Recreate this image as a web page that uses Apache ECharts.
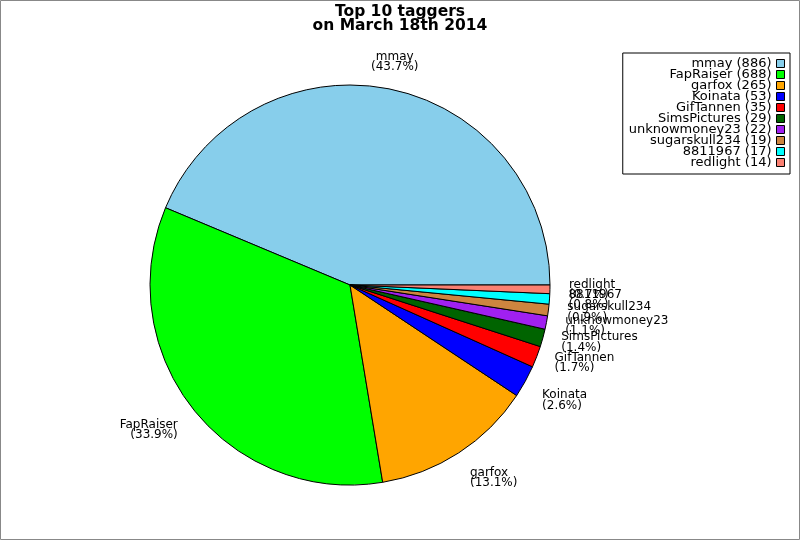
<!DOCTYPE html>
<html>
<head>
<meta charset="utf-8">
<script src="https://cdn.jsdelivr.net/npm/echarts@6/dist/echarts.min.js"></script>
<style>
html,body{margin:0;padding:0;background:#fff;}
#chart{width:800px;height:540px;}
</style>
</head>
<body>
<div id="chart"></div>
<script>
const names = ['mmay','FapRaiser','garfox','Koinata','GifTannen','SimsPictures','unknowmoney23','sugarskull234','8811967','redlight'];
const counts = [886, 688, 265, 53, 35, 29, 22, 19, 17, 14];
const colors = ['#87CEEB','#00FF00','#FFA500','#0000FF','#FF0000','#006400','#A020F0','#CD853F','#00FFFF','#FA8072'];
const titleLines = ['Top 10 taggers', 'on March 18th 2014'];

const total = counts.reduce((a, b) => a + b, 0);
const midAngles = [];
let acc = 0;
counts.forEach(v => { midAngles.push((acc + v / 2) / total * 2 * Math.PI); acc += v; });

const chart = echarts.init(document.getElementById('chart'), null, {renderer: 'canvas'});
const FONT = 'DejaVu Sans';
chart.setOption({
  animation: false,
  color: colors,
  graphic: [{
    type: 'rect', silent: true, z: -1,
    shape: {x: 0.5, y: 0.5, width: 799, height: 539},
    style: {fill: 'none', stroke: '#888', lineWidth: 1}
  }],
  title: {
    text: titleLines.join('\n'),
    left: 'center', top: 0,
    textStyle: {fontFamily: FONT, fontSize: 15.5, fontWeight: 'bold', lineHeight: 14, color: '#000'}
  },
  legend: {
    orient: 'vertical', right: 10, top: 53,
    align: 'right',
    padding: [4, 5, 5, 6],
    borderColor: '#000', borderWidth: 1,
    itemGap: -2, itemWidth: 8, itemHeight: 8,
    icon: 'rect',
    itemStyle: {borderColor: '#000', borderWidth: 1},
    textStyle: {fontFamily: FONT, fontSize: 13, lineHeight: 11, height: 11, color: '#000', padding: 0},
    formatter: n => n + ' (' + counts[names.indexOf(n)] + ')',
    selectedMode: false,
    data: names
  },
  series: [{
    type: 'pie',
    center: [350, 285],
    radius: 200,
    startAngle: 0,
    clockwise: false,
    avoidLabelOverlap: false,
    silent: true,
    itemStyle: {borderColor: '#000', borderWidth: 1},
    label: {
      show: true, position: 'outside',
      fontFamily: FONT, fontSize: 12, lineHeight: 10.5, color: '#000',
      distanceToLabelLine: 2,
      formatter: p => p.name + '\n(' + (p.value / total * 100).toFixed(1) + '%)'
    },
    labelLine: {show: false, length: 17, length2: 0},
    labelLayout: function (params) {
      const a = midAngles[params.dataIndex];
      const c = Math.cos(a), s = Math.sin(a);
      return {
        align: Math.abs(c) < 0.3 ? 'center' : (c > 0 ? 'left' : 'right'),
        verticalAlign: s > 0.45 ? 'bottom' : (s < -0.45 ? 'top' : 'middle')
      };
    },
    data: names.map((n, i) => ({name: n, value: counts[i]}))
  }]
});
</script>
</body>
</html>
